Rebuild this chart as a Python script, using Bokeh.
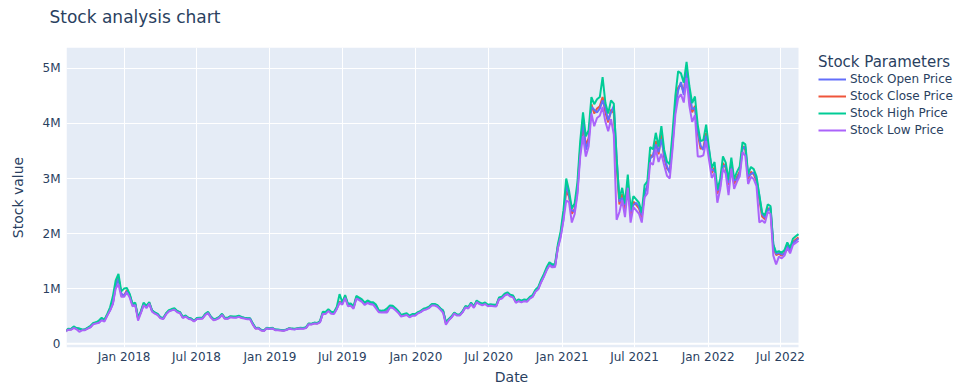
import pandas as pd
from bokeh.plotting import figure
from bokeh.models import (ColumnDataSource, Range1d, FixedTicker, DatetimeTickFormatter,
                          CustomJSTickFormatter, Legend, LegendItem, Span, Title, BoxAnnotation)
from bokeh.embed import file_html
from bokeh.resources import INLINE

# ---------------- data (weekly samples, values in thousands) ----------------
first_date = "2017-08-07"
step = "7D"

open_2017 = [220, 258, 262, 288, 280, 270, 246, 256, 278, 300, 360, 382, 385, 440, 430, 515, 610, 730, 1040, 1180, 910]
high_2017 = [232, 270, 267, 312, 283, 274, 258, 260, 290, 325, 376, 389, 420, 470, 435, 541, 660, 860, 1150, 1265, 950]
low_2017 = [218, 254, 251, 285, 262, 215, 242, 244, 273, 298, 354, 367, 378, 425, 400, 509, 602, 720, 1000, 1080, 850]
close_2017 = [225, 262, 259, 294, 275, 266, 250, 252, 282, 307, 365, 378, 390, 448, 422, 525, 621, 742, 1069, 1210, 896]

open_2018 = [870, 950, 890, 715, 710, 470, 565, 715, 672, 735, 600, 560, 535, 475, 452, 538, 590, 610, 626, 588, 567, 481, 498, 466, 452, 413, 450, 458, 465, 526, 562, 488, 438, 446, 472, 528, 463, 458, 486, 484, 480, 494, 477, 466, 455, 456, 362, 282, 281, 248, 237, 279, 273]
high_2018 = [1000, 1010, 905, 725, 745, 470, 592, 745, 685, 757, 605, 566, 540, 478, 465, 554, 608, 628, 643, 595, 574, 486, 513, 471, 458, 417, 464, 471, 471, 542, 577, 493, 444, 458, 486, 544, 469, 469, 499, 492, 492, 506, 485, 473, 463, 463, 368, 285, 290, 250, 239, 290, 276]
low_2018 = [850, 930, 840, 680, 700, 420, 555, 700, 644, 727, 581, 544, 518, 460, 447, 532, 584, 604, 617, 571, 552, 466, 493, 453, 440, 401, 446, 453, 453, 520, 555, 473, 426, 440, 466, 522, 451, 451, 479, 472, 472, 486, 466, 455, 445, 445, 345, 270, 278, 240, 229, 278, 265]
close_2018 = [877, 968, 877, 703, 722, 452, 574, 722, 664, 742, 593, 555, 529, 469, 456, 543, 596, 616, 630, 583, 563, 476, 503, 462, 449, 409, 455, 462, 462, 531, 566, 483, 435, 449, 476, 533, 460, 460, 489, 482, 482, 496, 475, 464, 454, 454, 355, 277, 284, 245, 234, 284, 270]

open_2019 = [278, 256, 248, 246, 238, 251, 270, 272, 262, 272, 280, 281, 284, 352, 358, 370, 372, 392, 540, 560, 600, 570, 550, 635, 750, 740, 840, 715, 700, 662, 830, 822, 788, 730, 755, 742, 733, 700, 595, 580, 586, 585, 668, 670, 630, 580, 512, 518, 532, 498, 518, 524]
high_2019 = [288, 255, 255, 248, 245, 259, 281, 273, 269, 281, 288, 284, 300, 368, 361, 383, 375, 409, 580, 574, 627, 579, 573, 665, 900, 752, 884, 723, 730, 674, 867, 838, 805, 746, 784, 758, 752, 709, 607, 599, 607, 640, 695, 687, 644, 592, 523, 538, 552, 508, 538, 538]
low_2019 = [276, 245, 245, 238, 235, 249, 270, 263, 259, 270, 276, 272, 282, 354, 347, 368, 361, 385, 540, 540, 591, 545, 539, 627, 741, 708, 832, 681, 688, 634, 817, 790, 759, 702, 738, 714, 708, 640, 571, 565, 571, 565, 655, 647, 606, 558, 493, 506, 520, 478, 506, 506]
close_2019 = [282, 250, 250, 243, 240, 254, 275, 268, 264, 275, 282, 278, 288, 361, 354, 375, 368, 397, 557, 557, 609, 562, 556, 646, 764, 730, 858, 702, 709, 654, 842, 814, 782, 724, 761, 736, 730, 688, 589, 582, 589, 582, 675, 667, 625, 575, 508, 522, 536, 493, 522, 522]

open_2020 = [555, 578, 615, 642, 655, 700, 712, 690, 640, 600, 380, 428, 478, 548, 526, 518, 578, 665, 658, 725, 670, 760, 738, 716, 728, 698, 697, 698, 686, 812, 830, 884, 908, 878, 862, 765, 780, 770, 784, 780, 828, 860, 950, 995, 1120, 1225, 1345, 1430, 1425, 1410, 1740, 1960]
high_2020 = [572, 596, 633, 648, 673, 721, 721, 699, 644, 602, 395, 450, 497, 566, 530, 532, 595, 686, 665, 748, 677, 785, 748, 725, 749, 706, 715, 709, 704, 840, 853, 908, 933, 889, 874, 772, 803, 781, 804, 793, 851, 883, 981, 1028, 1157, 1264, 1387, 1479, 1442, 1448, 1800, 2040]
low_2020 = [550, 572, 609, 622, 647, 693, 693, 671, 618, 560, 345, 422, 475, 544, 510, 512, 571, 660, 639, 718, 651, 755, 718, 697, 719, 678, 687, 681, 676, 807, 819, 872, 897, 855, 840, 742, 771, 751, 772, 761, 817, 849, 943, 988, 1111, 1214, 1333, 1421, 1386, 1392, 1730, 1930]
close_2020 = [561, 584, 621, 635, 660, 707, 707, 685, 631, 590, 370, 435, 485, 555, 520, 522, 583, 673, 652, 733, 664, 770, 733, 711, 734, 692, 701, 695, 690, 823, 836, 890, 915, 872, 857, 757, 787, 766, 788, 777, 834, 866, 962, 1008, 1134, 1239, 1360, 1450, 1414, 1420, 1765, 1986]

open_2021 = [2250, 2900, 2700, 2420, 2400, 2760, 3480, 4100, 3520, 3680, 4300, 4250, 4200, 4270, 4420, 4280, 4060, 4200, 4320, 3400, 2580, 2650, 2520, 2880, 2400, 2520, 2560, 2490, 2330, 2700, 2880, 3360, 3420, 3620, 3480, 3720, 3420, 3220, 3100, 3620, 4260, 4600, 4750, 4520, 4980, 4560, 4260, 4280, 3880, 3600, 3520, 3780]
high_2021 = [2420, 3000, 2780, 2455, 2545, 2930, 3680, 4200, 3765, 3880, 4480, 4350, 4440, 4480, 4840, 4370, 4180, 4420, 4360, 3370, 2630, 2830, 2550, 3070, 2430, 2680, 2620, 2560, 2380, 2880, 2950, 3570, 3530, 3830, 3580, 3950, 3520, 3310, 3260, 3840, 4500, 4950, 4910, 4740, 5120, 4680, 4370, 4490, 3970, 3680, 3700, 3980]
low_2021 = [2240, 2600, 2570, 2200, 2350, 2710, 3400, 3770, 3400, 3580, 4180, 3950, 4100, 4140, 4300, 4030, 3860, 4080, 3800, 2250, 2390, 2610, 2300, 2830, 2200, 2480, 2420, 2360, 2200, 2660, 2730, 3290, 3250, 3530, 3300, 3450, 3240, 3050, 3000, 3540, 4160, 4460, 4530, 4380, 4830, 4320, 4030, 4150, 3400, 3400, 3420, 3680]
close_2021 = [2330, 2776, 2674, 2360, 2447, 2820, 3540, 3930, 3620, 3730, 4350, 4180, 4270, 4310, 4480, 4200, 4020, 4250, 4190, 3240, 2530, 2720, 2450, 2950, 2340, 2580, 2520, 2460, 2290, 2770, 2840, 3430, 3390, 3680, 3440, 3800, 3380, 3180, 3130, 3690, 4330, 4650, 4720, 4560, 5030, 4500, 4200, 4320, 3820, 3540, 3560, 3830]

open_2022 = [3520, 3160, 3140, 2780, 2850, 3220, 3240, 2920, 3220, 2960, 2990, 3100, 3540, 3580, 3040, 3080, 3110, 2990, 2680, 2350, 2290, 2420, 2470, 1800, 1630, 1650, 1620, 1630, 1770, 1710, 1820, 1870, 1910]
high_2022 = [3550, 3190, 3300, 2800, 2980, 3400, 3290, 2970, 3380, 2990, 3120, 3220, 3660, 3620, 3080, 3210, 3170, 3040, 2700, 2380, 2330, 2530, 2500, 1800, 1660, 1680, 1650, 1700, 1840, 1740, 1905, 1950, 1990]
low_2022 = [3350, 3010, 3100, 2560, 2800, 3180, 3090, 2700, 3180, 2810, 2940, 3040, 3480, 3410, 2900, 3030, 2990, 2860, 2200, 2240, 2190, 2390, 2360, 1600, 1440, 1580, 1550, 1600, 1740, 1640, 1795, 1830, 1870]
close_2022 = [3450, 3100, 3200, 2720, 2890, 3280, 3190, 2880, 3280, 2900, 3030, 3130, 3590, 3520, 2990, 3120, 3080, 2950, 2620, 2310, 2260, 2460, 2430, 1750, 1610, 1630, 1600, 1650, 1790, 1690, 1850, 1890, 1930]

y_ticks = [0, 1000000, 2000000, 3000000, 4000000, 5000000]
x_tick_dates = ["2018-01-01", "2018-07-01", "2019-01-01", "2019-07-01", "2020-01-01",
                "2020-07-01", "2021-01-01", "2021-07-01", "2022-01-01", "2022-07-01"]

series_names = ["Stock Open Price", "Stock Close Price", "Stock High Price", "Stock Low Price"]
series_cols = ["open", "close", "high", "low"]
series_colors = ["#636efa", "#EF553B", "#00cc96", "#ab63fa"]

# ---------------- build ----------------
def k(*parts):
    out = []
    for part in parts:
        out.extend(part)
    return [v * 1000 for v in out]

open_v = k(open_2017, open_2018, open_2019, open_2020, open_2021, open_2022)
close_v = k(close_2017, close_2018, close_2019, close_2020, close_2021, close_2022)
high_v = k(high_2017, high_2018, high_2019, high_2020, high_2021, high_2022)
low_v = k(low_2017, low_2018, low_2019, low_2020, low_2021, low_2022)

dates = pd.date_range(first_date, periods=len(close_v), freq=step)
src = ColumnDataSource(dict(date=dates, open=open_v, close=close_v, high=high_v, low=low_v))

FONT = "DejaVu Sans"
TXT = "#2a3f5f"
W, H = 956, 387
LEFT, PLOT_RIGHT = 66, 798          # plotting-area edges (px)

view_start = pd.Timestamp("2017-08-10")
view_end = pd.Timestamp("2022-08-15")
# the frame runs to the canvas edge so the legend can sit in it; the
# shaded plotting area ends at view_end
frame_end = view_start + (view_end - view_start) * ((W - LEFT) / (PLOT_RIGHT - LEFT))

p = figure(width=W, height=H, x_axis_type="datetime", output_backend="svg",
           toolbar_location=None, tools="", title_location=None,
           x_range=Range1d(view_start, frame_end),
           y_range=Range1d(-70000, 5380000),
           min_border_left=LEFT, min_border_right=0, min_border_top=47, min_border_bottom=40)
p.background_fill_color = "white"
p.border_fill_color = "white"
p.outline_line_color = None

p.add_layout(BoxAnnotation(right=view_end.value / 1e6, fill_color="#E5ECF6", fill_alpha=1,
                           line_alpha=0, level="image"))

# spacer between frame and title, then the title itself
p.add_layout(Title(text=" ", text_font_size="1px", standoff=18), "above")
p.add_layout(Title(text="Stock analysis chart", text_font=FONT, text_font_size="17px",
                   text_font_style="normal", text_color=TXT, align="left",
                   offset=-17, standoff=0), "above")

x_ms = [pd.Timestamp(d).value // 10**6 for d in x_tick_dates]
p.xaxis.ticker = FixedTicker(ticks=x_ms)
p.xaxis.formatter = DatetimeTickFormatter(days="%b %Y", months="%b %Y", years="%b %Y",
                                          hours="%b %Y", minutes="%b %Y")
p.yaxis.ticker = FixedTicker(ticks=y_ticks)
p.yaxis.formatter = CustomJSTickFormatter(code="return tick == 0 ? '0' : (tick/1e6) + 'M';")

for ax in (p.xaxis, p.yaxis):
    ax.axis_line_color = None
    ax.major_tick_line_color = None
    ax.minor_tick_line_color = None
    ax.major_tick_out = 0
    ax.major_tick_in = 0
    ax.minor_tick_out = 0
    ax.minor_tick_in = 0
    ax.major_label_text_font = FONT
    ax.major_label_text_font_size = "12px"
    ax.major_label_text_color = TXT
    ax.axis_label_text_font = FONT
    ax.axis_label_text_font_size = "14px"
    ax.axis_label_text_font_style = "normal"
    ax.axis_label_text_color = TXT

p.xaxis.axis_label = "Date"
p.yaxis.axis_label = "Stock value"
p.xaxis.major_label_standoff = 2
p.xaxis.axis_label_standoff = 2
p.yaxis.major_label_standoff = 6
p.yaxis.axis_label_standoff = 14

p.xgrid.grid_line_color = "white"
p.ygrid.grid_line_color = "white"
p.xgrid.grid_line_width = 1
p.ygrid.grid_line_width = 1

p.add_layout(Span(location=0, dimension="width", line_color="white", line_width=2, level="underlay"))

rmap = {}
for col in ["close", "open", "high", "low"]:
    i = series_cols.index(col)
    rmap[col] = p.line("date", col, source=src, line_color=series_colors[i], line_width=2)

legend = Legend(items=[LegendItem(label=n, renderers=[rmap[c]]) for n, c in zip(series_names, series_cols)],
                location=(818 - LEFT, 210), title="Stock Parameters",
                padding=0, margin=0, spacing=3, glyph_width=28, glyph_height=14,
                label_height=14, label_standoff=4,
                border_line_color=None, background_fill_alpha=0)
legend.label_text_font = FONT
legend.label_text_font_size = "12px"
legend.label_text_color = TXT
legend.title_text_font = FONT
legend.title_text_font_size = "15px"
legend.title_text_font_style = "normal"
legend.title_text_color = TXT
legend.title_standoff = 1
p.add_layout(legend)

open("out.html", "w").write(file_html(p, INLINE))
